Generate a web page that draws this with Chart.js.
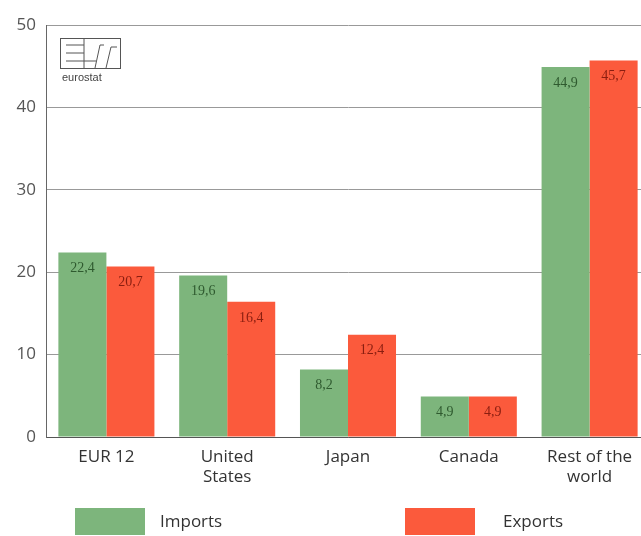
<!DOCTYPE html>
<html>
<head>
<meta charset="utf-8">
<script src="https://cdn.jsdelivr.net/npm/chart.js@4.4.0/dist/chart.umd.min.js"></script>
<style>
  body { margin: 0; background: #fff; overflow: hidden; }
  #wrap { position: relative; width: 641px; height: 536px; overflow: hidden; }
  .leg { position: absolute; top: 508px; height: 27px; width: 70px; }
  .legtxt { position: absolute; top: 509px; font: 17px "Open Sans", sans-serif; color: #333; }
</style>
</head>
<body>
<div id="wrap">
  <canvas id="myChart1" width="650" height="536"></canvas>
  <div class="leg" style="left:75px;background:#7db57c"></div>
  <div class="legtxt" style="left:160px">Imports</div>
  <div class="leg" style="left:405px;background:#fb5a3c"></div>
  <div class="legtxt" style="left:503px">Exports</div>
</div>
<script>
const categories = ['EUR 12', ['United', 'States'], 'Japan', 'Canada', ['Rest of the', 'world']];
const imports = [22.4, 19.6, 8.2, 4.9, 44.9];
const exports = [20.7, 16.4, 12.4, 4.9, 45.7];
const yTicks = [0, 10, 20, 30, 40, 50];

// numbers written inside the top of each bar, with a decimal comma
const barLabels = {
    id: 'barLabels',
    afterDatasetsDraw(chart) {
        const ctx = chart.ctx;
        ctx.save();
        ctx.font = '14px "Liberation Serif", serif';
        ctx.textAlign = 'center';
        ctx.textBaseline = 'middle';
        chart.data.datasets.forEach((ds, i) => {
            chart.getDatasetMeta(i).data.forEach((bar, j) => {
                ctx.fillStyle = ds.labelColor;
                ctx.fillText(ds.data[j].toFixed(1).replace('.', ','), bar.x, bar.y + 16);
            });
        });
        ctx.restore();
    }
};

// little eurostat logo in the top-left corner
const logo = {
    id: 'logo',
    afterDraw(chart) {
        const ctx = chart.ctx;
        ctx.save();
        ctx.strokeStyle = '#555';
        ctx.lineWidth = 1;
        ctx.strokeRect(60.5, 38.5, 60, 30);
        ctx.beginPath();
        ctx.moveTo(66, 45); ctx.lineTo(84, 45);
        ctx.moveTo(66, 53); ctx.lineTo(84, 53);
        ctx.moveTo(66, 61); ctx.lineTo(96, 61);
        ctx.moveTo(84, 39); ctx.lineTo(84, 68);
        ctx.moveTo(95, 68); ctx.lineTo(100, 45); ctx.lineTo(104, 45);
        ctx.moveTo(106, 68); ctx.lineTo(111, 47); ctx.lineTo(117, 47);
        ctx.stroke();
        ctx.fillStyle = '#444';
        ctx.font = '11px "Liberation Sans", Arial, sans-serif';
        ctx.textBaseline = 'alphabetic';
        ctx.fillText('eurostat', 62, 81);
        ctx.restore();
    }
};

new Chart(document.getElementById('myChart1'), {
    type: 'bar',
    data: {
        labels: categories,
        datasets: [{
            label: 'Imports',
            data: imports,
            backgroundColor: '#7db57c',
            labelColor: '#2f5a2f'
        },
        {
            label: 'Exports',
            data: exports,
            backgroundColor: '#fb5a3c',
            labelColor: '#8a1e10'
        }]
    },
    options: {
        responsive: false,
        animation: false,
        categoryPercentage: 0.795,
        barPercentage: 1,
        layout: { padding: { top: 25, bottom: 39, right: 0, left: 0 } },
        plugins: {
            legend: { display: false },
            tooltip: { enabled: false }
        },
        scales: {
            x: {
                grid: { display: false },
                border: { color: '#555', width: 1 },
                ticks: {
                    color: '#333',
                    font: { family: '"Open Sans", sans-serif', size: 17 },
                    padding: 2,
                    maxRotation: 0,
                    autoSkip: false
                },
                afterFit(scale) { scale.height = 60; }
            },
            y: {
                min: 0,
                max: 50,
                afterBuildTicks(scale) { scale.ticks = yTicks.map(v => ({ value: v })); },
                grid: { color: '#999', drawTicks: false },
                border: { color: '#666', width: 1 },
                ticks: {
                    color: '#555',
                    font: { family: '"Open Sans", sans-serif', size: 17 },
                    padding: 10
                },
                afterFit(scale) { scale.width = 46; }
            }
        }
    },
    plugins: [barLabels, logo]
});
</script>
</body>
</html>
